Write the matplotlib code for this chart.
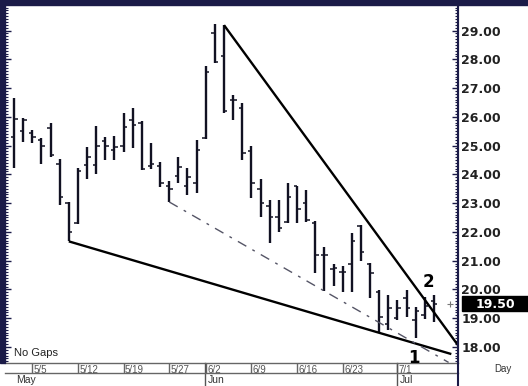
import numpy as np
import matplotlib.pyplot as plt
from matplotlib.patches import Rectangle
from matplotlib.lines import Line2D
from matplotlib.ticker import MultipleLocator, FormatStrFormatter
from matplotlib.transforms import blended_transform_factory

# Barras diarias OHLC (una por dia habil, sin huecos)
apertura = [25.30, 25.50, 25.45, 25.20, 25.60, 24.36, 23.00, 22.30, 24.32, 24.32,
            25.15, 24.85, 25.00, 25.90, 25.80, 24.30, 24.30, 23.60, 23.94, 23.60,
            23.70, 25.25, 28.90, 28.10, 26.60, 26.30, 24.80, 23.50, 22.90, 22.50,
            22.35, 23.60, 23.00, 22.30, 21.20, 20.70, 20.60, 20.90, 22.20, 20.90,
            19.90, 18.80, 19.00, 19.70, 18.94, 19.10, 19.60]
maximo = [26.65, 25.96, 25.56, 25.26, 25.78, 24.53, 23.04, 24.22, 24.95, 25.68,
          25.30, 25.33, 26.13, 26.30, 25.86, 25.10, 24.43, 23.77, 24.60, 24.22,
          25.19, 27.77, 29.23, 29.19, 26.76, 26.48, 24.97, 23.84, 23.10, 23.10,
          23.70, 23.60, 23.46, 22.37, 21.46, 20.88, 20.80, 21.95, 22.25, 20.92,
          19.98, 19.81, 19.63, 19.98, 19.39, 19.74, 19.81]
minimo = [24.22, 25.13, 25.10, 24.36, 24.60, 22.94, 21.67, 22.27, 23.84, 24.00,
          24.50, 24.50, 24.78, 24.92, 24.16, 24.20, 23.57, 23.04, 23.70, 23.28,
          23.35, 25.23, 27.87, 26.13, 25.89, 24.50, 23.17, 22.50, 21.60, 22.00,
          22.30, 22.30, 22.35, 20.56, 19.94, 20.12, 19.90, 19.90, 21.00, 19.70,
          18.49, 18.59, 18.94, 19.04, 18.31, 18.97, 18.87]
cierre = [25.92, 25.90, 25.30, 24.99, 24.67, 23.20, 22.00, 24.10, 24.60, 24.98,
          24.98, 24.95, 25.65, 25.70, 24.20, 24.37, 23.70, 23.49, 24.26, 23.90,
          24.85, 27.56, 27.90, 26.20, 26.60, 24.74, 23.70, 23.00, 22.50, 22.13,
          23.20, 22.80, 22.40, 21.20, 21.20, 20.75, 20.60, 21.70, 21.30, 20.57,
          19.04, 19.35, 19.35, 19.35, 19.25, 19.42, 19.50]

fechas_idx = [2, 7, 12, 17, 21, 26, 31, 36, 42]
fechas_txt = ['5/5', '5/12', '5/19', '5/27', '6/2', '6/9', '6/16', '6/23', '7/1']
meses_idx = [0, 21, 42]
meses_txt = ['May', 'Jun', 'Jul']

ultimo_precio = 19.50

# Lineas de tendencia: (barra inicio, precio inicio, barra fin, precio fin)
linea_sup = (23, maximo[23], 48.6, 18.07)
pend_inf = (minimo[6] - minimo[40]) / (40 - 6)
linea_inf = (6, minimo[6], 47.9, minimo[6] - pend_inf * (47.9 - 6))
pend_pto = (minimo[17] - minimo[34]) / (34 - 17)
linea_pto = (17, minimo[17], 47.6, minimo[17] - pend_pto * (47.6 - 17))

azul = '#1b1b48'
negro = '#111122'

fig = plt.figure(figsize=(5.28, 3.86), dpi=100)
ax = fig.add_axes([5 / 528, 23 / 386, 453 / 528, 358 / 386])

x = np.arange(len(cierre))
ax.vlines(x, minimo, maximo, color=negro, lw=1.7)
ax.hlines(apertura, x - 0.38, x, color=negro, lw=1.1)
ax.hlines(cierre, x, x + 0.38, color=negro, lw=1.1)

for l in (linea_sup, linea_inf):
    ax.plot([l[0], l[2]], [l[1], l[3]], color='black', lw=1.7, solid_capstyle='butt')
ax.plot([linea_pto[0], linea_pto[2]], [linea_pto[1], linea_pto[3]], color='#555566',
        lw=1.0, linestyle=(0, (7, 5, 2, 5)))

ax.plot([47.7], [ultimo_precio], marker='+', ms=4, color='#777777', mew=0.8)

ax.set_xlim(-0.99, 48.63)
ax.set_ylim(17.44, 29.89)

# eje de precios a la derecha
ax.yaxis.set_major_locator(MultipleLocator(1))
ax.yaxis.set_minor_locator(MultipleLocator(0.1))
ax.yaxis.set_major_formatter(FormatStrFormatter('%.2f'))
ax.tick_params(axis='y', which='both', left=True, right=True, labelleft=False,
               labelright=True, direction='in', colors=azul, pad=2.5)
ax.tick_params(axis='y', which='major', length=4, width=1)
ax.tick_params(axis='y', which='minor', length=2, width=0.8)
for t in ax.get_yticklabels():
    t.set_fontweight('bold')
    t.set_fontsize(9)
    t.set_color('#222222')

# fechas
ax.set_xticks(fechas_idx)
ax.set_xticklabels([])
ax.tick_params(axis='x', direction='out', length=7.2, width=1, color='#666666')

tr = blended_transform_factory(ax.transData, ax.transAxes)
for i, t in zip(fechas_idx, fechas_txt):
    ax.text(i + 0.15, -0.005, t, transform=tr, ha='left', va='top', fontsize=7,
            family='Liberation Sans', color='#555555')
for i, t in zip(meses_idx, meses_txt):
    ax.text(i + 0.2, -0.033, t, transform=tr, ha='left', va='top', fontsize=7.5,
            family='Liberation Sans', color='#333333')
    if i > 0:
        ax.plot([i - 0.05, i - 0.05], [0, -23 / 358], transform=tr, color='#555555',
                lw=1, clip_on=False)
ax.plot([-0.99, 48.63], [-10 / 358, -10 / 358], transform=tr, color='#666666',
        lw=1, clip_on=False)

for s in ('left', 'top'):
    ax.spines[s].set_visible(False)
ax.spines['right'].set_color(azul)
ax.spines['right'].set_linewidth(1.5)
ax.spines['bottom'].set_color('#666666')
ax.spines['bottom'].set_linewidth(1)

# marco azul arriba y a la izquierda
fig.patches.append(Rectangle((0, 1 - 5 / 386), 1, 5 / 386, transform=fig.transFigure,
                             color=azul, zorder=5))
fig.patches.append(Rectangle((0, 23 / 386), 5 / 528, 1, transform=fig.transFigure,
                             color=azul, zorder=5))
fig.lines.append(Line2D([458 / 528, 458 / 528], [0, 1], transform=fig.transFigure,
                        color=azul, lw=1.5))

# anotaciones
ax.text(0.05, 17.6, 'No Gaps', fontsize=8, family='Liberation Sans', color='#222222',
        ha='left', va='bottom')
ax.text(43.8, 17.6, '1', fontsize=12, fontweight='bold', ha='center', va='center')
ax.text(45.4, 19.95, '2', fontsize=12, fontweight='bold', ha='center', va='bottom')

fig.text(503 / 528, 1 - 369 / 386, 'Day', fontsize=7, family='Liberation Sans',
         color='#333333', ha='center', va='center')
fig.patches.append(Rectangle((462 / 528, 1 - 311 / 386), 66 / 528, 15 / 386,
                             transform=fig.transFigure, color='black'))
fig.text(495 / 528, 1 - 304 / 386, '%.2f' % ultimo_precio, fontsize=9,
         fontweight='bold', color='white', ha='center', va='center')

plt.savefig('out.png', dpi=100)
